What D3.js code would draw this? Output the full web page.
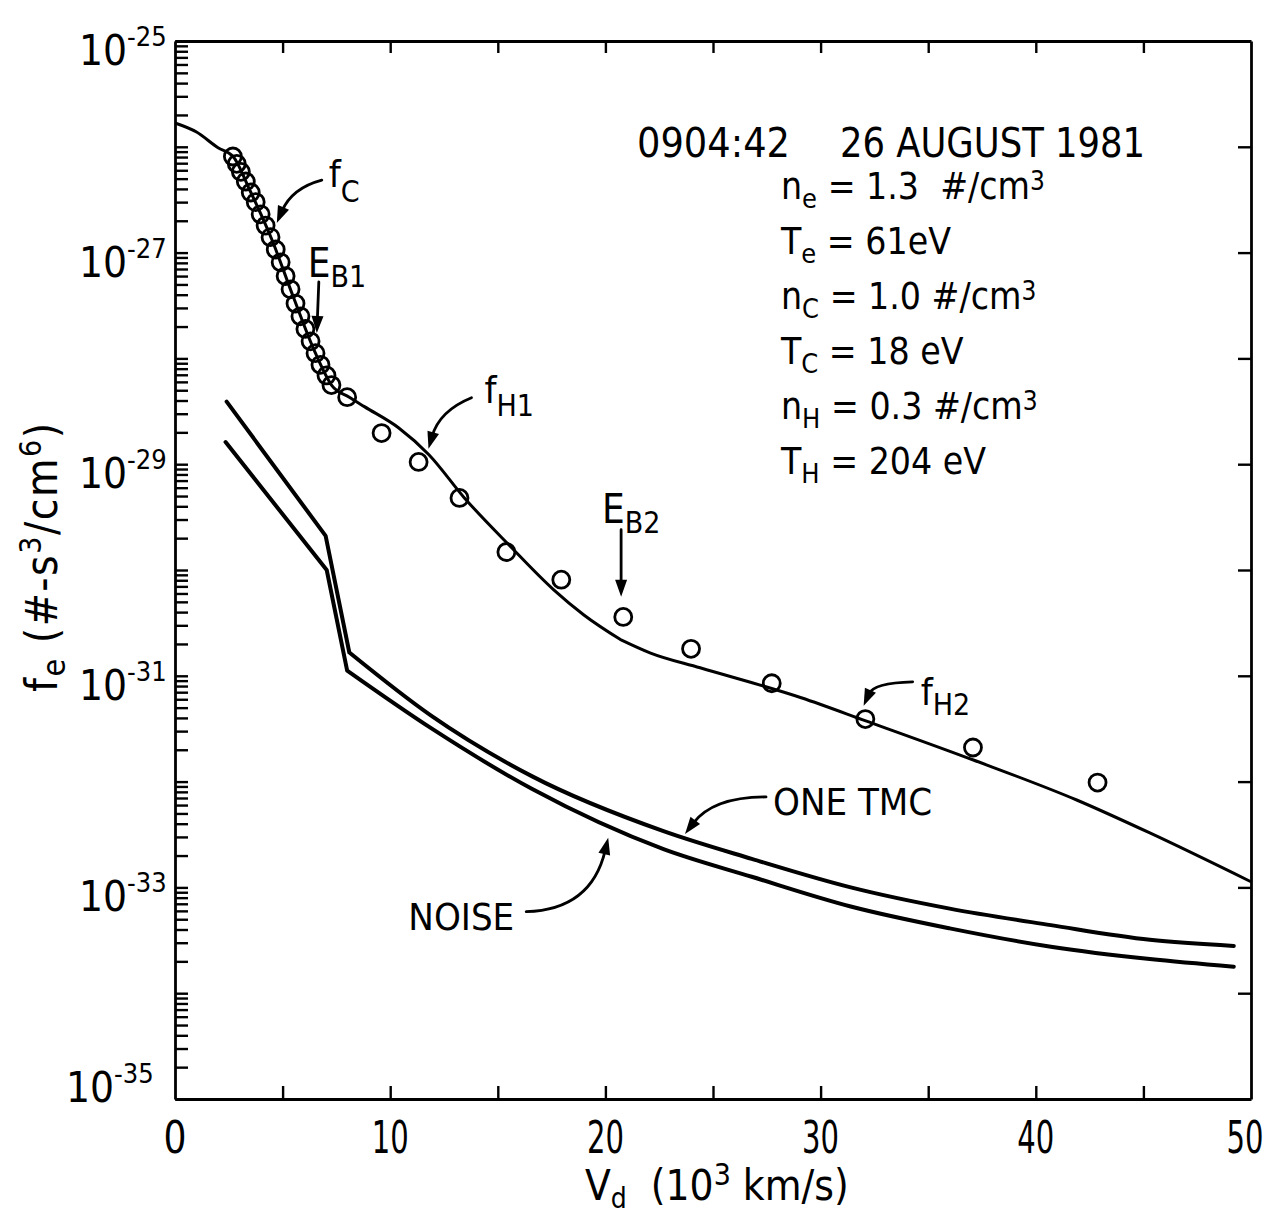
<!DOCTYPE html>
<html>
<head>
<meta charset="utf-8">
<script src="https://cdn.jsdelivr.net/npm/d3@7"></script>
<style>
  body { margin: 0; background: #fff; }
  svg text { font-family: 'DejaVu Sans Condensed', 'DejaVu Sans', sans-serif; fill: #000; white-space: pre; }
</style>
</head>
<body>
<svg id="chart" width="1276" height="1219"></svg>
<script>
// Electron distribution, 0904:42 UT, 26 August 1981
// V_d in 10^3 km/s, f_e in s^3/cm^6

// measured points (circles)
const obsV = [2.69, 2.87, 3.06, 3.29, 3.52, 3.75, 3.98, 4.21, 4.44, 4.68, 4.91, 5.14, 5.37, 5.60, 5.83,
              6.06, 6.30, 6.53, 6.76, 7.04, 7.27, 8.0, 9.6, 11.32, 13.22, 15.4, 17.95, 20.83, 23.98,
              27.73, 32.08, 37.08, 42.87];
const obsF = [8.1e-27, 6.9e-27, 5.8e-27, 4.7e-27, 3.7e-27, 3.0e-27, 2.3e-27, 1.8e-27, 1.4e-27, 1.07e-27,
              8.1e-28, 6.0e-28, 4.5e-28, 3.3e-28, 2.5e-28, 1.9e-28, 1.45e-28, 1.12e-28,
              8.7e-29, 6.9e-29, 5.6e-29, 4.3e-29, 1.97e-29, 1.05e-29, 4.8e-30, 1.48e-30,
              8.1e-31, 3.6e-31, 1.8e-31, 8.5e-32, 3.9e-32, 2.1e-32, 9.8e-33];

// model fit f_C + f_H1 + f_H2 (break at E_B2)
const fitV = [0, 1, 2, 2.7, 3.5, 4.5, 5.5, 6.5, 7.3, 8.1, 8.8, 10.4, 11.8, 13.45, 15.6, 17.6, 19.0, 20.7,
              22.1, 24.4, 29.1, 32.1, 37.1, 41.9, 45.3, 50];
const fitF = [1.68e-26, 1.38e-26, 9.8e-27, 8.1e-27, 3.8e-27, 1.33e-27, 3.8e-28, 1.15e-28, 5.5e-29, 4.3e-29,
              3.5e-29, 2.2e-29, 1.23e-29, 4.8e-30, 1.66e-30, 6.5e-31, 3.76e-31, 2.2e-31,
              1.64e-31, 1.19e-31, 6.2e-32, 3.75e-32, 1.6e-32, 6.7e-33, 3.27e-33, 1.13e-33];
const fitBreakIndex = 17;

// one count per TMC sample and the noise level
const tmcV = [2.4, 7.0, 8.1, 11.9, 16.6, 22.7, 26.8, 31.4, 36.0, 40.7, 45.3, 49.2];
const tmcF = [3.9e-29, 2.1e-30, 1.66e-31, 4.2e-32, 1.12e-32, 3.4e-33, 1.86e-33, 1.0e-33, 6.3e-34, 4.4e-34, 3.2e-34, 2.8e-34];
const noiseV = [2.35, 7.05, 8.0, 11.9, 16.6, 22.7, 26.8, 31.4, 36.0, 40.7, 45.3, 49.2];
const noiseF = [1.62e-29, 1.0e-30, 1.12e-31, 3.2e-32, 8.5e-33, 2.3e-33, 1.26e-33, 6.6e-34, 4.1e-34, 2.75e-34, 2.1e-34, 1.78e-34];
const kneeIndex = 2;

// ticks and labels
const xLabelTicks = [0, 10, 20, 30, 40, 50];
const xMinorTicks = [5, 10, 15, 20, 25, 30, 35, 40, 45];
const yLabelExps = [-25, -27, -29, -31, -33, -35];
const headerTime = "0904:42";
const headerDate = "26 AUGUST 1981";
const params = [
  { sym: "n", sub: "e", rest: " = 1.3  #/cm", sup: "3" },
  { sym: "T", sub: "e", rest: " = 61eV" },
  { sym: "n", sub: "C", rest: " = 1.0 #/cm", sup: "3" },
  { sym: "T", sub: "C", rest: " = 18 eV" },
  { sym: "n", sub: "H", rest: " = 0.3 #/cm", sup: "3" },
  { sym: "T", sub: "H", rest: " = 204 eV" }
];

// plot frame
const frameLeft = 175, frameRight = 1251, frameTop = 41, frameBottom = 1099;
const svg = d3.select("#chart");
svg.append("rect").attr("width", 1276).attr("height", 1219).attr("fill", "#fff");

const x = d3.scaleLinear().domain([0, 50]).range([frameLeft, frameRight]);
const y = d3.scaleLog().domain([1e-35, 1e-25]).range([frameBottom, frameTop]);

// axes: log minor ticks on the left, decades on the right
const yMinor = [];
for (let e = -35; e < -25; e++) for (let k = 1; k < 10; k++) yMinor.push(k * Math.pow(10, e));
yMinor.push(1e-25);
const yDecades = d3.range(-34, -25).map(e => Math.pow(10, e));

function styleAxis(g) {
  g.select(".domain").attr("stroke", "#000").attr("stroke-width", 2.8);
  g.selectAll(".tick line").attr("stroke", "#000").attr("stroke-width", 2.4);
  g.selectAll(".tick text").remove();
}
svg.append("g").attr("transform", `translate(${frameLeft},0)`)
  .call(d3.axisRight(y).tickValues(yMinor).tickSize(13).tickSizeOuter(0).tickFormat(""))
  .call(styleAxis);
svg.append("g").attr("transform", `translate(${frameRight},0)`)
  .call(d3.axisLeft(y).tickValues(yDecades).tickSize(13).tickSizeOuter(0).tickFormat(""))
  .call(styleAxis);
svg.append("g").attr("transform", `translate(0,${frameBottom})`)
  .call(d3.axisTop(x).tickValues(xMinorTicks).tickSize(13).tickSizeOuter(0).tickFormat(""))
  .call(styleAxis);
svg.append("g").attr("transform", `translate(0,${frameTop})`)
  .call(d3.axisBottom(x).tickValues(xMinorTicks).tickSize(12).tickSizeOuter(0).tickFormat(""))
  .call(styleAxis);

// x tick labels
svg.append("g").selectAll("text").data(xLabelTicks).join("text")
  .attr("x", d => x(d) - (d === 50 ? 6 : 0)).attr("y", frameBottom + 54)
  .attr("text-anchor", "middle").attr("font-size", 44)
  .attr("textLength", d => String(d).length === 1 ? 23 : 37)
  .attr("lengthAdjust", "spacingAndGlyphs")
  .text(d => d);

// y tick labels 10^n
yLabelExps.forEach((e, i) => {
  const last = i === yLabelExps.length - 1;
  const yy = y(Math.pow(10, e)) + (last ? 3 : 24);
  const t = svg.append("text").attr("x", last ? 66 : 79).attr("y", yy).attr("font-size", 42);
  t.append("tspan").text("10");
  t.append("tspan").attr("font-size", 27).attr("dy", -19).text("-" + Math.abs(e));
});

// axis titles
{
  const t = svg.append("text").attr("x", 585).attr("y", 1200).attr("font-size", 42);
  t.append("tspan").text("V");
  t.append("tspan").attr("font-size", 28).attr("dy", 8).text("d");
  t.append("tspan").attr("font-size", 42).attr("dy", -8).text("  (10");
  t.append("tspan").attr("font-size", 30).attr("dy", -15).text("3");
  t.append("tspan").attr("font-size", 42).attr("dy", 15).text(" km/s)");
}
{
  const t = svg.append("text").attr("transform", "translate(57,692) rotate(-90)")
    .attr("font-size", 44).attr("letter-spacing", 1.5);
  t.append("tspan").text("f");
  t.append("tspan").attr("font-size", 32).attr("dy", 8).text("e");
  t.append("tspan").attr("font-size", 44).attr("dy", -8).text(" (#-s");
  t.append("tspan").attr("font-size", 30).attr("dy", -16).text("3");
  t.append("tspan").attr("font-size", 44).attr("dy", 16).text("/cm");
  t.append("tspan").attr("font-size", 30).attr("dy", -16).text("6");
  t.append("tspan").attr("font-size", 44).attr("dy", 16).text(")");
}

// header and plasma parameters
svg.append("text").attr("x", 637).attr("y", 157).attr("font-size", 40)
  .attr("textLength", 153).attr("lengthAdjust", "spacingAndGlyphs").text(headerTime);
svg.append("text").attr("x", 840).attr("y", 157).attr("font-size", 40)
  .attr("textLength", 305).attr("lengthAdjust", "spacingAndGlyphs").text(headerDate);

params.forEach((p, i) => {
  const t = svg.append("text").attr("x", 781).attr("y", 199 + i * 55).attr("font-size", 37);
  t.append("tspan").text(p.sym);
  t.append("tspan").attr("font-size", 27).attr("dy", 9).text(p.sub);
  t.append("tspan").attr("font-size", 37).attr("dy", -9).text(p.rest);
  if (p.sup) t.append("tspan").attr("font-size", 26).attr("dy", -9).text(p.sup);
});

// curves
function pts(vs, fs) { return vs.map((v, i) => [x(v), y(fs[i])]); }
const smooth = d3.line().curve(d3.curveMonotoneX);
const straight = d3.line();
function joined(a, b) { return a + b.replace(/^M/, "L"); }

const fitPts = pts(fitV, fitF);
svg.append("path")
  .attr("d", joined(smooth(fitPts.slice(0, fitBreakIndex + 1)), smooth(fitPts.slice(fitBreakIndex))))
  .attr("fill", "none").attr("stroke", "#000").attr("stroke-width", 3).attr("stroke-linejoin", "round");

[[tmcV, tmcF], [noiseV, noiseF]].forEach(([vs, fs]) => {
  const p = pts(vs, fs);
  svg.append("path")
    .attr("d", joined(straight(p.slice(0, kneeIndex + 1)), smooth(p.slice(kneeIndex))))
    .attr("fill", "none").attr("stroke", "#000").attr("stroke-width", 4)
    .attr("stroke-linejoin", "round").attr("stroke-linecap", "round");
});

// data circles
svg.append("g").selectAll("circle").data(obsV).join("circle")
  .attr("cx", d => x(d)).attr("cy", (d, i) => y(obsF[i])).attr("r", 8.5)
  .attr("fill", "none").attr("stroke", "#000").attr("stroke-width", 2.8);

// annotations: arrow tip in data units, arrow and label offsets in pixels
const notes = [
  { v: 4.73, f: 1.9e-27, from: [45, -43], ctrl: [15, -35], at: [52, -36], main: "f", sub: "C", ms: 38, ss: 30, sdy: 15 },
  { v: 6.59, f: 1.74e-28, from: [2, -51], ctrl: [1, -25], at: [-9, -56], main: "E", sub: "B1", ms: 40, ss: 30, sdy: 10 },
  { v: 11.78, f: 1.4e-29, from: [43, -51], ctrl: [11, -38], at: [56, -46], main: "f", sub: "H1", ms: 38, ss: 30, sdy: 13 },
  { v: 20.73, f: 5.6e-31, from: [0, -67], ctrl: [0, -33], at: [-19, -74], main: "E", sub: "B2", ms: 40, ss: 30, sdy: 10 },
  { v: 32.0, f: 5.2e-32, from: [49, -24], ctrl: [10, -23], at: [57, -1], main: "f", sub: "H2", ms: 38, ss: 30, sdy: 10 },
  { v: 23.7, f: 3.2e-33, from: [81, -37], ctrl: [28, -37], at: [88, -19], main: "ONE TMC", ms: 38 },
  { v: 20.13, f: 2.95e-33, from: [-82, 74], ctrl: [-17, 72], at: [-94, 92], main: "NOISE", ms: 38, anchor: "end" }
];

notes.forEach(n => {
  const tx = x(n.v), ty = y(n.f);
  const sx = tx + n.from[0], sy = ty + n.from[1];
  const cx = tx + n.ctrl[0], cy = ty + n.ctrl[1];
  let dx = tx - cx, dy = ty - cy;
  const len = Math.hypot(dx, dy); dx /= len; dy /= len;
  const hl = 17, hw = 6;
  const bx = tx - dx * hl, by = ty - dy * hl;
  svg.append("path")
    .attr("d", `M${sx},${sy}Q${cx},${cy} ${bx + dx * 4},${by + dy * 4}`)
    .attr("fill", "none").attr("stroke", "#000").attr("stroke-width", 2.8).attr("stroke-linecap", "round");
  svg.append("path")
    .attr("d", `M${tx},${ty}L${bx - dy * hw},${by + dx * hw}L${bx + dy * hw},${by - dx * hw}Z`)
    .attr("fill", "#000");
  const t = svg.append("text").attr("x", tx + n.at[0]).attr("y", ty + n.at[1])
    .attr("font-size", n.ms).attr("text-anchor", n.anchor || "start");
  t.append("tspan").text(n.main);
  if (n.sub) t.append("tspan").attr("font-size", n.ss).attr("dy", n.sdy).text(n.sub);
});
</script>
</body>
</html>
